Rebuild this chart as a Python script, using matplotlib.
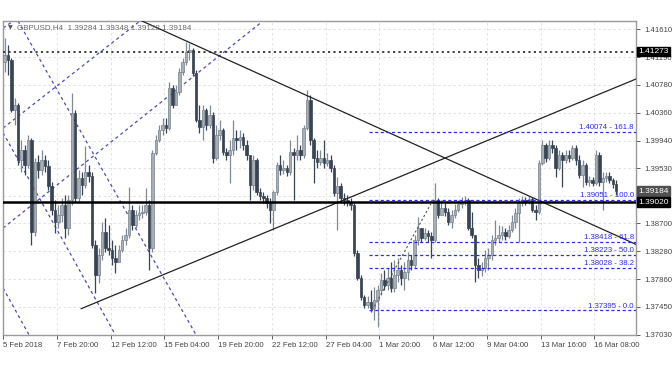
import numpy as np
import matplotlib.pyplot as plt

# GBPUSD H4 candles, one entry per bar (open = previous close)
first_open = 1.4112
closes = [
    1.41225, 1.4115, 1.404, 1.40475, 1.3965, 1.398, 1.39575, 1.3995, 1.3857, 1.3962,
    1.395, 1.3965, 1.3956, 1.3926, 1.389, 1.3872, 1.38825, 1.38975, 1.3863, 1.3905,
    1.40355, 1.3908, 1.3938, 1.39275, 1.3947, 1.3941, 1.38375, 1.37925, 1.38225, 1.3857,
    1.3833, 1.383, 1.3818, 1.3812, 1.383, 1.3845, 1.38525, 1.389, 1.38675, 1.38825,
    1.38855, 1.3887, 1.38975, 1.3833, 1.39755, 1.3995, 1.401, 1.40175, 1.4013, 1.4073,
    1.40475, 1.4067, 1.4097, 1.4112, 1.4127, 1.413, 1.40955, 1.4025, 1.40145, 1.404,
    1.40175, 1.40325, 1.3968, 1.40025, 1.401, 1.3977, 1.39725, 1.398, 1.3998, 1.3995,
    1.39995, 1.39875, 1.39725, 1.39275, 1.3965, 1.3917, 1.3911, 1.3908, 1.39005, 1.389,
    1.3917, 1.39575, 1.395, 1.3953, 1.3947, 1.3977, 1.39725, 1.398, 1.39725, 1.4013,
    1.4055, 1.3995, 1.3968, 1.3962, 1.3968, 1.39605, 1.3965, 1.3953, 1.39155, 1.3926,
    1.3908, 1.3905, 1.3902, 1.38975, 1.38255, 1.3788, 1.37595, 1.37475, 1.3752, 1.3743,
    1.3755, 1.377, 1.3785, 1.37775, 1.3788, 1.3773, 1.37925, 1.38, 1.3788, 1.3797,
    1.3815, 1.38075, 1.3845, 1.3863, 1.3848, 1.38555, 1.3851, 1.3845, 1.3905, 1.38825,
    1.3893, 1.3887, 1.3872, 1.38825, 1.389, 1.3899, 1.3902, 1.3905, 1.3863, 1.38525,
    1.38075, 1.38, 1.3803, 1.3818, 1.38225, 1.3845, 1.3848, 1.38525, 1.3857, 1.3851,
    1.386, 1.3872, 1.38855, 1.39005, 1.3905, 1.3902, 1.39065, 1.389, 1.3887, 1.39605,
    1.39875, 1.3968, 1.39875, 1.3983, 1.3953, 1.39725, 1.3965, 1.39725, 1.3968, 1.3983,
    1.3965, 1.39425, 1.39575, 1.3932, 1.3935, 1.39305, 1.39725, 1.3932, 1.3938, 1.3941,
    1.3935, 1.39284, 1.39184,
]
highs = [
    1.4148, 1.41375, 1.4118, 1.4058, 1.40505, 1.3995, 1.39875, 1.40025, 1.3998, 1.3968,
    1.39725, 1.398, 1.39725, 1.3965, 1.3932, 1.3905, 1.38975, 1.3908, 1.39125, 1.39125,
    1.40655, 1.404, 1.395, 1.3947, 1.3986, 1.39575, 1.3947, 1.3845, 1.3833, 1.3872,
    1.3878, 1.38675, 1.3845, 1.38375, 1.38375, 1.38525, 1.3863, 1.39245, 1.38975, 1.389,
    1.38975, 1.38975, 1.3923, 1.3905, 1.398, 1.40025, 1.40175, 1.4028, 1.4028, 1.4082,
    1.40775, 1.40775, 1.4103, 1.4118, 1.4142, 1.41405, 1.4133, 1.41, 1.40475, 1.40475,
    1.4043, 1.40475, 1.4037, 1.40175, 1.4025, 1.4013, 1.3983, 1.3995, 1.4025, 1.401,
    1.401, 1.40055, 1.3995, 1.39725, 1.39725, 1.3968, 1.3923, 1.3917, 1.39125, 1.3908,
    1.392, 1.3962, 1.39725, 1.3965, 1.39575, 1.3995, 1.3983, 1.40025, 1.39875, 1.40175,
    1.407, 1.40625, 1.3998, 1.398, 1.398, 1.3995, 1.39755, 1.39725, 1.39575, 1.39395,
    1.39305, 1.39155, 1.39125, 1.3908, 1.39005, 1.383, 1.37925, 1.37625, 1.3761, 1.377,
    1.37745, 1.37775, 1.37955, 1.38, 1.3803, 1.3812, 1.3815, 1.3818, 1.38075, 1.3812,
    1.3827, 1.38225, 1.38525, 1.38795, 1.3863, 1.3863, 1.386, 1.3857, 1.39305, 1.3908,
    1.3905, 1.39005, 1.3893, 1.389, 1.3899, 1.3905, 1.39095, 1.3911, 1.3908, 1.3887,
    1.38525, 1.3818, 1.3812, 1.383, 1.3833, 1.38525, 1.3875, 1.38675, 1.3866, 1.3863,
    1.38675, 1.38825, 1.3893, 1.3908, 1.3911, 1.39095, 1.3911, 1.39095, 1.38975, 1.3965,
    1.3995, 1.39905, 1.3995, 1.3995, 1.39875, 1.398, 1.3977, 1.398, 1.398, 1.39875,
    1.39875, 1.39725, 1.3965, 1.39605, 1.3941, 1.39395, 1.398, 1.3977, 1.3947, 1.3947,
    1.3947, 1.3938, 1.39348,
]
lows = [
    1.4097, 1.40925, 1.4037, 1.40175, 1.39575, 1.3947, 1.39425, 1.3953, 1.38375, 1.3851,
    1.3938, 1.39425, 1.3947, 1.392, 1.38825, 1.38555, 1.3863, 1.3872, 1.3848, 1.38525,
    1.38975, 1.3902, 1.39005, 1.39125, 1.3923, 1.3932, 1.3833, 1.37655, 1.37805, 1.3815,
    1.3827, 1.38225, 1.38075, 1.37955, 1.3812, 1.3827, 1.38375, 1.3848, 1.386, 1.3863,
    1.3875, 1.3878, 1.38825, 1.38, 1.3827, 1.39725, 1.3992, 1.40025, 1.40055, 1.401,
    1.4043, 1.40475, 1.40625, 1.40925, 1.41075, 1.4115, 1.4091, 1.4022, 1.40055, 1.3995,
    1.401, 1.4013, 1.39605, 1.3965, 1.3995, 1.39725, 1.3965, 1.39305, 1.39725, 1.398,
    1.3983, 1.398, 1.3965, 1.3905, 1.392, 1.39125, 1.3905, 1.39005, 1.3893, 1.38705,
    1.386, 1.39125, 1.39425, 1.3944, 1.3941, 1.39425, 1.3905, 1.3965, 1.3965, 1.3968,
    1.401, 1.39875, 1.39305, 1.3953, 1.39575, 1.3953, 1.3956, 1.3947, 1.3911, 1.386,
    1.39005, 1.38975, 1.3896, 1.389, 1.3821, 1.3785, 1.3755, 1.3743, 1.3743, 1.3737,
    1.3725, 1.37145, 1.37625, 1.377, 1.377, 1.3767, 1.3767, 1.3782, 1.37775, 1.377,
    1.3785, 1.38, 1.3803, 1.38375, 1.3842, 1.3845, 1.3842, 1.3818, 1.3842, 1.3878,
    1.38825, 1.3881, 1.38675, 1.3863, 1.3878, 1.3887, 1.3893, 1.38975, 1.386, 1.3848,
    1.3782, 1.3788, 1.3791, 1.3797, 1.38, 1.3815, 1.38375, 1.3842, 1.3845, 1.3845,
    1.3848, 1.3857, 1.3863, 1.3842, 1.3896, 1.38975, 1.3899, 1.3887, 1.3875, 1.3884,
    1.39575, 1.3962, 1.3965, 1.39755, 1.39395, 1.395, 1.39245, 1.39605, 1.3962, 1.3965,
    1.39575, 1.3938, 1.39245, 1.39275, 1.3926, 1.3926, 1.39275, 1.3926, 1.389, 1.3932,
    1.39305, 1.3923, 1.39128,
]

time_labels = ['5 Feb 2018', '7 Feb 20:00', '12 Feb 12:00', '15 Feb 04:00',
               '19 Feb 20:00', '22 Feb 12:00', '27 Feb 04:00', '1 Mar 20:00',
               '6 Mar 12:00', '9 Mar 04:00', '13 Mar 16:00', '16 Mar 08:00']
price_ticks = [1.37030, 1.37450, 1.37860, 1.38280, 1.38700, 1.39110,
               1.39530, 1.39940, 1.40360, 1.40780, 1.41190, 1.41610]
hidden_ticks = [1.39110]  # covered by the price boxes in the terminal

fib_levels = [1.40074, 1.39051, 1.38418, 1.38223, 1.38028, 1.37395]
fib_names = ['161.8', '100.0', '61.8', '50.0', '38.2', '0.0']

# drawn objects: (bar, price) end points
down_trend = [(40.9, 1.41735), (187.9, 1.38384)]
up_trend = [(22.8, 1.3742), (187.9, 1.40865)]
fib_diag = [(109.4, 1.37395), (127.5, 1.39051)]
rising_dash = [[(-0.45, 1.3863), (76.9, 1.41735)],
               [(-0.45, 1.4013), (40.3, 1.41735)],
               [(-0.45, 1.4163), (2.6, 1.41735)]]
falling_dash = [[(4.0, 1.41735), (57.0, 1.37025)],
                [(-0.45, 1.4006), (33.0, 1.37025)],
                [(-0.45, 1.3773), (7.3, 1.37025)]]

resistance = 1.41273
support = 1.39020
last_price = 1.39184

plt.rcParams['font.family'] = ['Liberation Sans', 'DejaVu Sans']

fig = plt.figure(figsize=(6.72, 3.72), dpi=100)
ax = fig.add_axes([3 / 672, 1 - 335 / 372, 633 / 672, 314 / 372])

n = len(closes)
x = np.arange(n)
c = np.array(closes)
o = np.array([first_open] + closes[:-1])
h = np.array(highs)
l = np.array(lows)
up = c >= o

bull_face, bull_edge = '#A8AEB5', '#78828C'
bear_face = '#384453'

ax.vlines(x[up], l[up], h[up], color='#808A94', lw=0.9, zorder=3)
ax.vlines(x[~up], l[~up], h[~up], color=bear_face, lw=0.9, zorder=3)
body_lo = np.minimum(o, c)
body_h = np.maximum(np.abs(c - o), 0.00008)
ax.bar(x[up], body_h[up], bottom=body_lo[up], width=0.75,
       color=bull_face, edgecolor=bull_edge, lw=0.5, zorder=4)
ax.bar(x[~up], body_h[~up], bottom=body_lo[~up], width=0.75,
       color=bear_face, edgecolor=bear_face, lw=0.5, zorder=4)

x0, x1 = -0.47, 187.9
ax.set_xlim(x0, x1)
ax.set_ylim(1.37025, 1.41735)

# channel lines
for seg in rising_dash + falling_dash:
    (xa, ya), (xb, yb) = seg
    ax.plot([xa, xb], [ya, yb], color='#4B4BB4', lw=0.9,
            ls=(0, (2.5, 2.5)), zorder=2)

for seg in (down_trend, up_trend):
    (xa, ya), (xb, yb) = seg
    ax.plot([xa, xb], [ya, yb], color='#222222', lw=0.9, zorder=5)

ax.axhline(resistance, color='#333333', lw=1.3, ls=(0, (1.2, 1.8)), zorder=5)
ax.axhline(support, color='black', lw=1.8, zorder=5)

# fibonacci
fib_x0 = 108.5
for lev, name in zip(fib_levels, fib_names):
    ax.plot([fib_x0, x1], [lev, lev], color='#2B2BF0', lw=0.9,
            ls=(0, (2.5, 2)), zorder=5)
    ax.text(187.3, lev + 0.00012, f'{lev:.5f} - {name}', color='#2B2BF0',
            fontsize=5.6, ha='right', va='bottom', zorder=6)
(xa, ya), (xb, yb) = fib_diag
ax.plot([xa, xb], [ya, yb], color='#555555', lw=0.8, ls=(0, (2, 2)), zorder=5)

# axes styling
ax.set_xticks([16 * k - 0.45 for k in range(len(time_labels))])
ax.set_xticklabels(time_labels)
for lbl in ax.get_xticklabels():
    lbl.set_horizontalalignment('left')
ax.set_yticks(price_ticks)
ax.set_yticklabels(['' if v in hidden_ticks else f'{v:.5f}' for v in price_ticks])
ax.yaxis.tick_right()
ax.tick_params(axis='both', labelsize=5.6, colors='#444444', length=3,
               width=0.6, pad=2)
ax.tick_params(axis='y', pad=3)
ax.grid(True, color='#DDDDDD', lw=0.6, ls=(0, (3, 3)), zorder=0)
for sp in ax.spines.values():
    sp.set_color('#9A9A9A')
    sp.set_linewidth(1.0)


def price_box(val, face):
    ax.text(1.0035, val, f'{val:.5f}', transform=ax.get_yaxis_transform(),
            fontsize=6.0, color='white', ha='left', va='center', zorder=10,
            clip_on=False,
            bbox=dict(boxstyle='square,pad=0.13', fc=face, ec=face))


price_box(resistance, 'black')
price_box(last_price, '#505050')
price_box(support, 'black')

fig.text(8 / 672, 1 - 28 / 372, '\u25bc', fontsize=4.5, color='#555555',
         va='center', family=['DejaVu Sans'])
fig.text(17 / 672, 1 - 28 / 372,
         'GBPUSD,H4  1.39284 1.39348 1.39128 1.39184',
         fontsize=5.8, color='#6A6A6A', va='center')

fig.savefig('out.png', dpi=100)
